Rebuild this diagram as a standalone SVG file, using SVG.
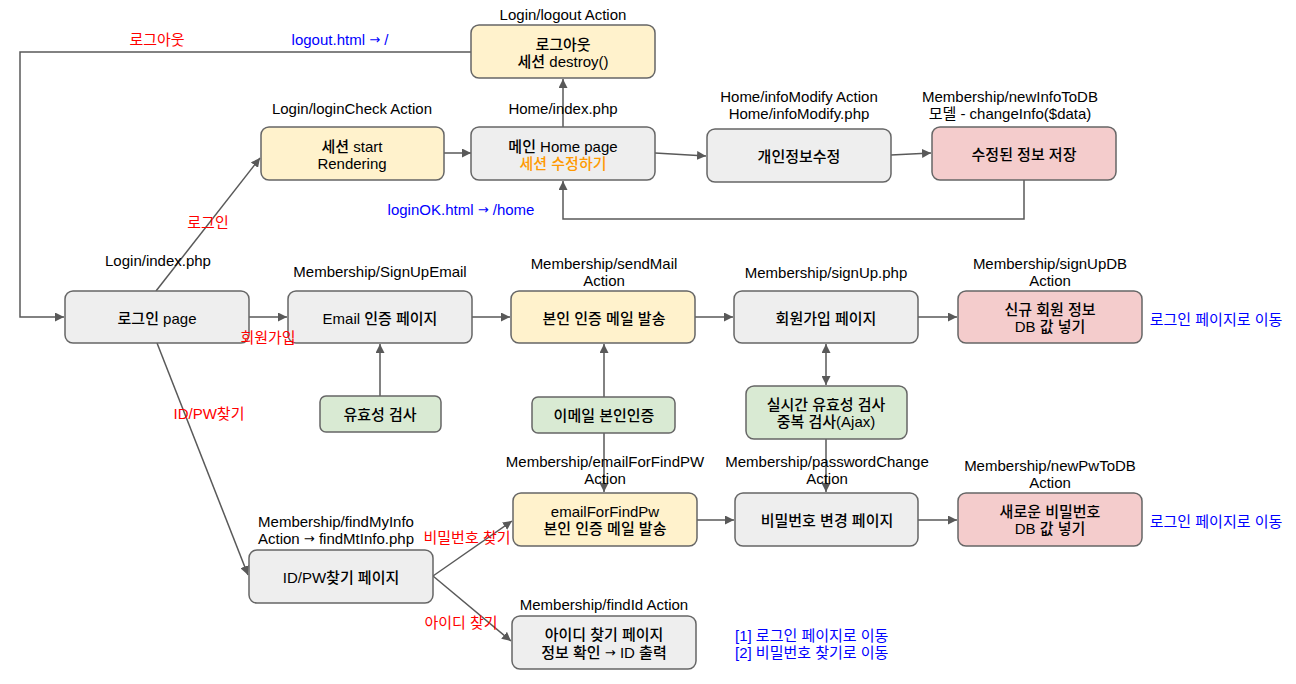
<svg xmlns="http://www.w3.org/2000/svg" width="1296" height="684" viewBox="0 0 1296 684">
<style>
text{font-family:"Liberation Sans","Noto Sans CJK KR",sans-serif;font-size:15px;fill:#000;text-anchor:middle;dominant-baseline:central}
.n{font-weight:500}
.red{fill:#ff0000}
.blue{fill:#0000ff}
.org{fill:#ff9900}
.st{text-anchor:start}
.ar{font-family:"DejaVu Sans",sans-serif;font-size:13px}
.node rect{stroke:#666;stroke-width:1.5}
.g{fill:#eeeeee}.y{fill:#fff2cc}.p{fill:#f4cccc}.gr{fill:#d9ead3}
.c path{fill:none;stroke:#595959;stroke-width:1.5}
</style>
<defs>
<marker id="a" viewBox="0 0 10 10" refX="10" refY="5" markerWidth="6" markerHeight="6" orient="auto-start-reverse" markerUnits="strokeWidth"><path d="M0,0L10,5L0,10z" fill="#595959"/></marker>
</defs>
<rect width="1296" height="684" fill="#fff"/>
<g class="c">
<path d="M472,52H20V317H64" marker-end="url(#a)"/>
<path d="M156,291L260,158" marker-end="url(#a)"/>
<path d="M444,153H471" marker-end="url(#a)"/>
<path d="M563,127V79" marker-end="url(#a)"/>
<path d="M655,153L706,156" marker-end="url(#a)"/>
<path d="M891,155L931,153" marker-end="url(#a)"/>
<path d="M1024,180V219H563V181" marker-end="url(#a)"/>
<path d="M249,317H287" marker-end="url(#a)"/>
<path d="M472,317H510" marker-end="url(#a)"/>
<path d="M695,317H733" marker-end="url(#a)"/>
<path d="M918,317H957" marker-end="url(#a)"/>
<path d="M380,396V344" marker-end="url(#a)"/>
<path d="M604,397V344" marker-end="url(#a)"/>
<path d="M604,433V492" marker-end="url(#a)"/>
<path d="M826,385V344" marker-start="url(#a)" marker-end="url(#a)"/>
<path d="M826,439V492" marker-end="url(#a)"/>
<path d="M157,343L248,575" marker-end="url(#a)"/>
<path d="M433,576L512,521" marker-end="url(#a)"/>
<path d="M433,576L511,641" marker-end="url(#a)"/>
<path d="M697,520H734" marker-end="url(#a)"/>
<path d="M918,520H957" marker-end="url(#a)"/>
</g>
<g id="logout" class="node"><rect class="y" x="471" y="25" width="184" height="53" rx="8"/><text class="n" x="563" y="44">로그아웃</text><text class="n" x="563" y="61">세션 destroy()</text></g>
<g id="sessionStart" class="node"><rect class="y" x="261" y="127" width="183" height="53" rx="8"/><text class="n" x="352" y="146">세션 start</text><text class="n" x="352" y="163">Rendering</text></g>
<g id="home" class="node"><rect class="g" x="471" y="127" width="184" height="53" rx="8"/><text class="n" x="563" y="146">메인 Home page</text><text class="n org" x="563" y="163">세션 수정하기</text></g>
<g id="infoModify" class="node"><rect class="g" x="707" y="129" width="184" height="53" rx="8"/><text class="n" x="799" y="156">개인정보수정</text></g>
<g id="saveInfo" class="node"><rect class="p" x="932" y="127" width="184" height="53" rx="8"/><text class="n" x="1024" y="154">수정된 정보 저장</text></g>
<g id="loginPage" class="node"><rect class="g" x="65" y="291" width="184" height="52" rx="8"/><text class="n" x="157" y="318">로그인 page</text></g>
<g id="emailPage" class="node"><rect class="g" x="288" y="291" width="184" height="52" rx="8"/><text class="n" x="380" y="318">Email 인증 페이지</text></g>
<g id="sendMail" class="node"><rect class="y" x="511" y="291" width="184" height="52" rx="8"/><text class="n" x="604" y="318">본인 인증 메일 발송</text></g>
<g id="signUpPage" class="node"><rect class="g" x="734" y="291" width="184" height="52" rx="8"/><text class="n" x="826" y="318">회원가입 페이지</text></g>
<g id="signUpDB" class="node"><rect class="p" x="958" y="291" width="184" height="52" rx="8"/><text class="n" x="1050" y="309">신규 회원 정보</text><text class="n" x="1050" y="326">DB 값 넣기</text></g>
<g id="validCheck" class="node"><rect class="gr" x="320" y="396" width="121" height="36" rx="6"/><text class="n" x="380" y="414">유효성 검사</text></g>
<g id="emailAuth" class="node"><rect class="gr" x="532" y="397" width="143" height="36" rx="6"/><text class="n" x="604" y="415">이메일 본인인증</text></g>
<g id="realtime" class="node"><rect class="gr" x="746" y="386" width="161" height="53" rx="8"/><text class="n" x="826" y="404">실시간 유효성 검사</text><text class="n" x="826" y="421">중복 검사(Ajax)</text></g>
<g id="findPwMail" class="node"><rect class="y" x="513" y="493" width="184" height="53" rx="8"/><text class="n" x="605" y="511">emailForFindPw</text><text class="n" x="605" y="528">본인 인증 메일 발송</text></g>
<g id="pwChange" class="node"><rect class="g" x="735" y="493" width="183" height="53" rx="8"/><text class="n" x="827" y="520">비밀번호 변경 페이지</text></g>
<g id="newPw" class="node"><rect class="p" x="958" y="493" width="184" height="53" rx="8"/><text class="n" x="1050" y="511">새로운 비밀번호</text><text class="n" x="1050" y="528">DB 값 넣기</text></g>
<g id="findPage" class="node"><rect class="g" x="249" y="550" width="184" height="53" rx="8"/><text class="n" x="341" y="577">ID/PW찾기 페이지</text></g>
<g id="findId" class="node"><rect class="g" x="512" y="616" width="184" height="53" rx="8"/><text class="n" x="604" y="634">아이디 찾기 페이지</text><text class="n" x="604" y="652">정보 확인 <tspan class="ar">→</tspan> ID 출력</text></g>
<g id="labels">
<text x="563" y="14">Login/logout Action</text>
<text class="red" x="157" y="39">로그아웃</text>
<text class="blue" x="340" y="39">logout.html <tspan class="ar">→</tspan> /</text>
<text x="352" y="108">Login/loginCheck Action</text>
<text x="563" y="108">Home/index.php</text>
<text x="799" y="96">Home/infoModify Action</text>
<text x="799" y="113">Home/infoModify.php</text>
<text x="1010" y="96">Membership/newInfoToDB</text>
<text x="1010" y="113">모델 - changeInfo($data)</text>
<text class="blue" x="461" y="209">loginOK.html <tspan class="ar">→</tspan> /home</text>
<text class="red" x="208" y="222">로그인</text>
<text x="158" y="260">Login/index.php</text>
<text x="380" y="271">Membership/SignUpEmail</text>
<text x="604" y="263">Membership/sendMail</text>
<text x="604" y="280">Action</text>
<text x="826" y="272">Membership/signUp.php</text>
<text x="1050" y="263">Membership/signUpDB</text>
<text x="1050" y="280">Action</text>
<text class="blue" x="1216" y="319">로그인 페이지로 이동</text>
<text class="red" x="268" y="337">회원가입</text>
<text class="red" x="209" y="413">ID/PW찾기</text>
<text x="605" y="461">Membership/emailForFindPW</text>
<text x="605" y="478">Action</text>
<text x="827" y="461">Membership/passwordChange</text>
<text x="827" y="478">Action</text>
<text x="1050" y="465">Membership/newPwToDB</text>
<text x="1050" y="482">Action</text>
<text x="336" y="521">Membership/findMyInfo</text>
<text x="336" y="538">Action <tspan class="ar">→</tspan> findMtInfo.php</text>
<text class="red" x="467" y="537">비밀번호 찾기</text>
<text class="blue" x="1216" y="521">로그인 페이지로 이동</text>
<text x="604" y="604">Membership/findId Action</text>
<text class="red" x="461" y="622">아이디 찾기</text>
<text class="blue st" x="735" y="635">[1] 로그인 페이지로 이동</text>
<text class="blue st" x="735" y="652">[2] 비밀번호 찾기로 이동</text>
</g>
</svg>
